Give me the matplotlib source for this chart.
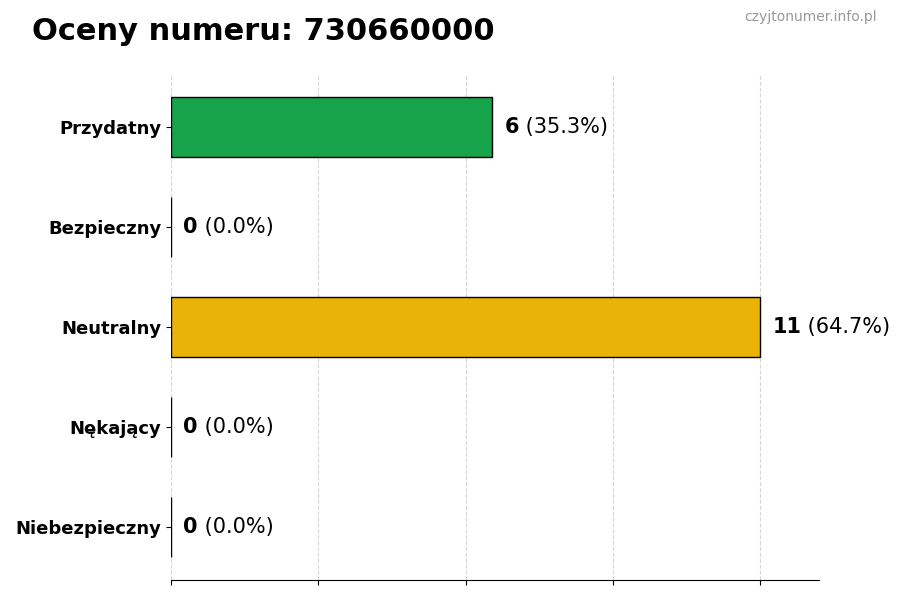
import matplotlib
matplotlib.use("Agg")
import matplotlib.pyplot as plt
import numpy as np

categories = ["Przydatny", "Bezpieczny", "Neutralny", "Nękający", "Niebezpieczny"]
counts = [6, 0, 11, 0, 0]
colors = ["#16a34a", "#3b82f6", "#eab308", "#f97316", "#dc2626"]
title = "Oceny numeru: 730660000"
watermark = "czyjtonumer.info.pl"

total = sum(counts)
fig = plt.figure(figsize=(9, 6), dpi=100)
ax = fig.add_axes([0.19, 0.0333, 0.72, 0.8434])

y = np.arange(len(categories))
ax.barh(y, counts, height=0.6, color=colors, edgecolor="black", linewidth=1)
ax.invert_yaxis()
ax.set_yticks(y)
ax.set_yticklabels(categories, fontsize=13, fontweight="bold")
xmax = max(counts)
ax.set_xlim(0, xmax * 1.1)
ax.set_xticks(np.linspace(0, xmax, 5))
ax.set_xticklabels([])
ax.grid(axis="x", linestyle="--", color="#cccccc", alpha=0.8, linewidth=0.8)
ax.set_axisbelow(True)
for s in ["top", "right", "left"]:
    ax.spines[s].set_visible(False)

for yi, c in zip(y, counts):
    pct = c / total * 100
    t = ax.text(c + xmax * 0.021, yi, f"{c}", fontsize=15, fontweight="bold",
                va="center", ha="left")
    ax.annotate(f" ({pct:.1f}%)", xy=(1, 0.5), xycoords=t, fontsize=15,
                va="center", ha="left")

fig.text(0.035, 0.947, title, fontsize=22, fontweight="bold", ha="left", va="center")
fig.text(0.974, 0.971, watermark, fontsize=10, color="#999999", ha="right", va="center")

fig.savefig("out.png", dpi=100)
